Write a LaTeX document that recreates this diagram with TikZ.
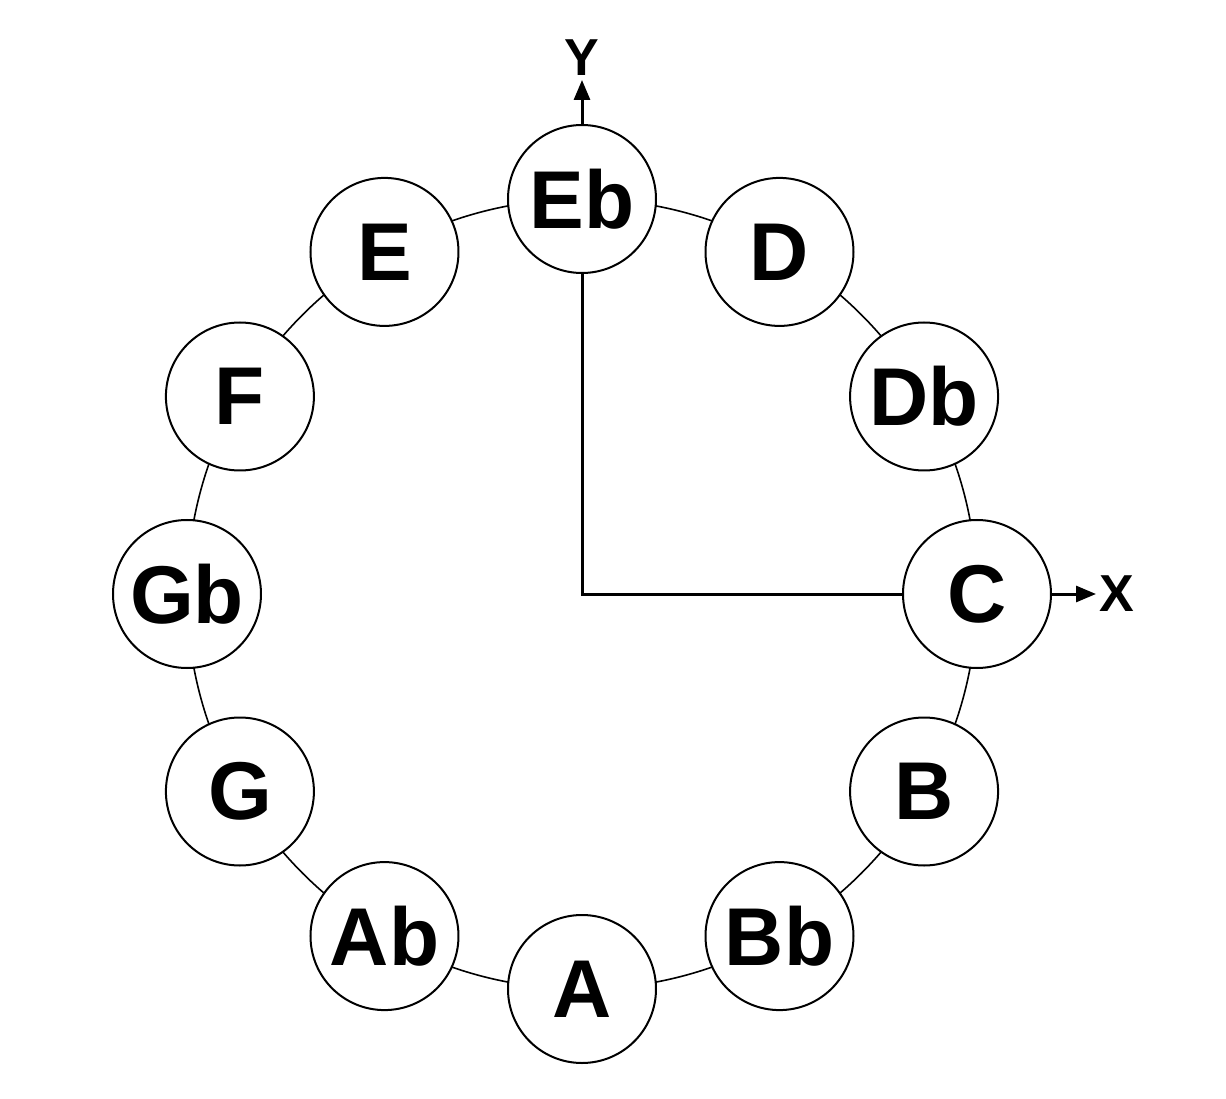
\documentclass[tikz,border=0pt]{standalone}
\usepackage{fontspec}
\setmainfont{Liberation Sans}
\usetikzlibrary{arrows.meta}
\begin{document}
\begin{tikzpicture}[x=0.5pt,y=0.5pt,
  note/.style={circle,draw,line width=1pt,fill=white,minimum size=74pt,inner sep=0pt,
    font=\fontsize{41}{41}\selectfont\bfseries},
  axislbl/.style={font=\fontsize{26}{26}\selectfont\bfseries,inner sep=0pt},
  axisline/.style={line width=1.5pt}]
\useasboundingbox (-582,-504) rectangle (644,594);
\draw[line width=0.8pt] (0,0) circle (395);
\foreach \n/\a in {C/0,Db/30,D/60,Eb/90,E/120,F/150,Gb/180,G/210,Ab/240,A/270,Bb/300,B/330}{
  \node[note] (\n) at (\a:395) {\n};
}
\coordinate (O) at (0,0);
\draw[axisline] (Eb.south) -- (O) -- (C.west);
\coordinate (ytip) at (0,514);
\coordinate (xtip) at (514,0);
\draw[axisline,-{Triangle[length=10pt,width=8pt]}] (Eb.north) -- (ytip);
\draw[axisline,-{Triangle[length=10pt,width=8pt]}] (C.east) -- (xtip);
\node[axislbl] (ylab) at (0,536) {Y};
\node[axislbl] (xlab) at (535,0) {X};
\end{tikzpicture}
\end{document}
